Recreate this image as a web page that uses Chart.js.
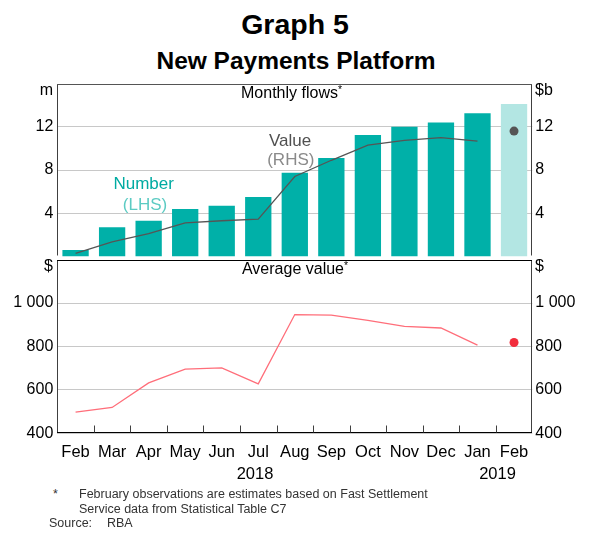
<!DOCTYPE html>
<html><head><meta charset="utf-8">
<script src="https://cdn.jsdelivr.net/npm/chart.js@4/dist/chart.umd.min.js"></script>
<style>
body{margin:0;width:589px;height:547px;background:#fff;position:relative;font-family:'Liberation Sans',Arial,sans-serif;overflow:hidden}
.t{position:absolute;white-space:nowrap;line-height:1;color:#000}
.c{transform:translateX(-50%)}
canvas{position:absolute;left:0}
sup{font-size:65%;vertical-align:0.45em;line-height:0}
</style></head><body>

<div class="t c" style="left:295px;top:10px;font-weight:bold;font-size:28.5px">Graph 5</div>
<div class="t c" style="left:296px;top:48.5px;font-weight:bold;font-size:24.5px">New Payments Platform</div>

<canvas id="top" width="589" height="200" style="top:70px"></canvas>
<canvas id="bot" width="589" height="230" style="top:246px"></canvas>

<div class="t c" style="left:291.5px;top:85px;font-size:16px">Monthly flows<sup>*</sup></div>
<div class="t c" style="left:295px;top:261px;font-size:16px">Average value<sup>*</sup></div>

<div class="t c" style="left:143.7px;top:174.7px;font-size:17px;color:#00ABA2">Number</div>
<div class="t c" style="left:145px;top:195.7px;font-size:17px;color:#5CCBC3">(LHS)</div>
<div class="t c" style="left:290px;top:131.7px;font-size:17px;color:#505050">Value</div>
<div class="t c" style="left:290.8px;top:151.4px;font-size:17px;color:#8a8a8a">(RHS)</div>

<div class="t" style="right:536px;top:81.5px;font-size:16px">m</div>
<div class="t" style="left:535px;top:81.5px;font-size:16px">$b</div>
<div class="t" style="right:536px;top:257.5px;font-size:16px">$</div>
<div class="t" style="left:535px;top:257.5px;font-size:16px">$</div>

<div class="t c" style="left:255px;top:465.2px;font-size:16.5px">2018</div>
<div class="t c" style="left:497.5px;top:465.2px;font-size:16.5px">2019</div>

<div class="t" style="left:53px;top:487.6px;font-size:12.5px;color:#333">*</div>
<div class="t" style="left:79px;top:487.6px;font-size:12.5px;color:#333">February observations are estimates based on Fast Settlement</div>
<div class="t" style="left:79px;top:503.4px;font-size:12.5px;color:#333">Service data from Statistical Table C7</div>
<div class="t" style="left:49px;top:516.9px;font-size:12.5px;color:#333">Source:</div>
<div class="t" style="left:107px;top:516.9px;font-size:12.5px;color:#333">RBA</div>

<script>
// ---- data ----
const months = ['Feb','Mar','Apr','May','Jun','Jul','Aug','Sep','Oct','Nov','Dec','Jan','Feb'];
const numberMillions = [0.6, 2.7, 3.3, 4.4, 4.7, 5.5, 7.75, 9.1, 11.25, 12.0, 12.4, 13.25, 14.1];
const valueBillions = [0.28, 1.35, 2.1, 3.1, 3.3, 3.45, 7.4, 8.9, 10.3, 10.75, 11.0, 10.67, null];
const valueEstimate = [null, null, null, null, null, null, null, null, null, null, null, null, 11.6];
const averageValue = [498, 519, 632, 696, 701, 628, 947, 944, 920, 892, 885, 806, null];
const averageEstimate = [null, null, null, null, null, null, null, null, null, null, null, null, 818];
const topTicks = [4, 8, 12];
const bottomTicks = [600, 800, 1000];

const FONT = "'Liberation Sans', Arial, sans-serif";
const TEAL = '#00B0A8', TEAL_LIGHT = '#B3E6E3';

function frame(mid) {
  return {
    id: 'frame',
    afterDatasetsDraw(chart, args, opts) {
      const a = chart.chartArea, ctx = chart.ctx;
      const l = Math.round(a.left) + 0.5, r = Math.round(a.right) - 0.5;
      const t = Math.round(a.top) + 0.5, b = Math.round(a.bottom) - 0.5;
      ctx.save();
      ctx.lineWidth = 1;
      ctx.strokeStyle = '#404040';
      ctx.beginPath();
      ctx.moveTo(l, t); ctx.lineTo(l, b); ctx.moveTo(r, t); ctx.lineTo(r, b);
      ctx.stroke();
      ctx.strokeStyle = mid ? '#000' : '#555';
      ctx.beginPath(); ctx.moveTo(l - 0.5, t); ctx.lineTo(r + 0.5, t); ctx.stroke();
      if (opts.bottomTicks) {
        const xs = chart.scales.x;
        ctx.strokeStyle = '#000';
        ctx.beginPath(); ctx.moveTo(l - 0.5, b); ctx.lineTo(r + 0.5, b); ctx.stroke();
        ctx.strokeStyle = '#404040';
        ctx.beginPath();
        for (let i = 0; i < months.length - 1; i++) {
          const x = Math.round((xs.getPixelForValue(i) + xs.getPixelForValue(i + 1)) / 2) + 0.5;
          ctx.moveTo(x, b); ctx.lineTo(x, b - 7);
        }
        ctx.stroke();
      }
      ctx.restore();
    }
  };
}

function yAxis(pos, min, max, step, shown, width, showGrid) {
  return {
    position: pos, min: min, max: max,
    afterFit(s) { s.width = width; },
    afterBuildTicks(s) { s.ticks = shown.map(v => ({ value: v })); },
    ticks: {
      font: { family: FONT, size: 16 }, color: '#000', padding: pos === 'left' ? 4 : 3,
      callback: v => v >= 1000 ? String(v).replace(/(\d)(\d{3})$/, '$1 $2') : String(v)
    },
    grid: { display: showGrid, color: '#c8c8c8', lineWidth: 1, drawTicks: false },
    border: { display: false }
  };
}

Chart.defaults.font.family = FONT;

new Chart(document.getElementById('top'), {
  data: {
    labels: months,
    datasets: [
      { type: 'line', label: 'Value', data: valueBillions, yAxisID: 'yR', borderColor: '#555', borderWidth: 1.3, pointRadius: 0, tension: 0, order: 1 },
      { type: 'line', label: 'Value estimate', data: valueEstimate, yAxisID: 'yR', showLine: false, pointRadius: 4.5, pointBackgroundColor: '#555', pointBorderWidth: 0, order: 0 },
      { type: 'bar', label: 'Number', data: numberMillions, yAxisID: 'yL',
        backgroundColor: months.map((m, i) => i === months.length - 1 ? TEAL_LIGHT : TEAL),
        barPercentage: 0.72, categoryPercentage: 1, order: 2 }
    ]
  },
  options: {
    responsive: false, animation: false, devicePixelRatio: 1,
    layout: { padding: { top: 12, bottom: 12.5, left: 0, right: 0 } },
    plugins: { legend: { display: false }, tooltip: { enabled: false }, frame: {} },
    scales: {
      x: { type: 'category', display: false, offset: true },
      yL: yAxis('left', 0, 16, 4, topTicks, 57.3, true),
      yR: yAxis('right', 0, 16, 4, topTicks, 56.7, false)
    }
  },
  plugins: [frame(false)]
});

new Chart(document.getElementById('bot'), {
  type: 'line',
  data: {
    labels: months,
    datasets: [
      { label: 'Average value', data: averageValue, yAxisID: 'yL', borderColor: '#FF6E7A', borderWidth: 1.3, pointRadius: 0, tension: 0 },
      { label: 'Average value estimate', data: averageEstimate, yAxisID: 'yL', showLine: false, pointRadius: 4.5, pointBackgroundColor: '#F22D3C', pointBorderWidth: 0 }
    ]
  },
  options: {
    responsive: false, animation: false, devicePixelRatio: 1,
    layout: { padding: { top: 12.5, bottom: 0.7, left: 0, right: 0 } },
    plugins: { legend: { display: false }, tooltip: { enabled: false }, frame: { bottomTicks: true } },
    scales: {
      x: { type: 'category', offset: true,
        afterFit(s) { s.height = 42; },
        grid: { display: false, drawTicks: false, offset: true }, border: { display: false },
        ticks: { font: { family: FONT, size: 16.5 }, color: '#000', padding: 9.5, maxRotation: 0, autoSkip: false } },
      yL: yAxis('left', 400, 1200, 200, [400].concat(bottomTicks), 57.3, true),
      yR: yAxis('right', 400, 1200, 200, [400].concat(bottomTicks), 56.7, false)
    }
  },
  plugins: [frame(true)]
});
</script>
</body></html>
